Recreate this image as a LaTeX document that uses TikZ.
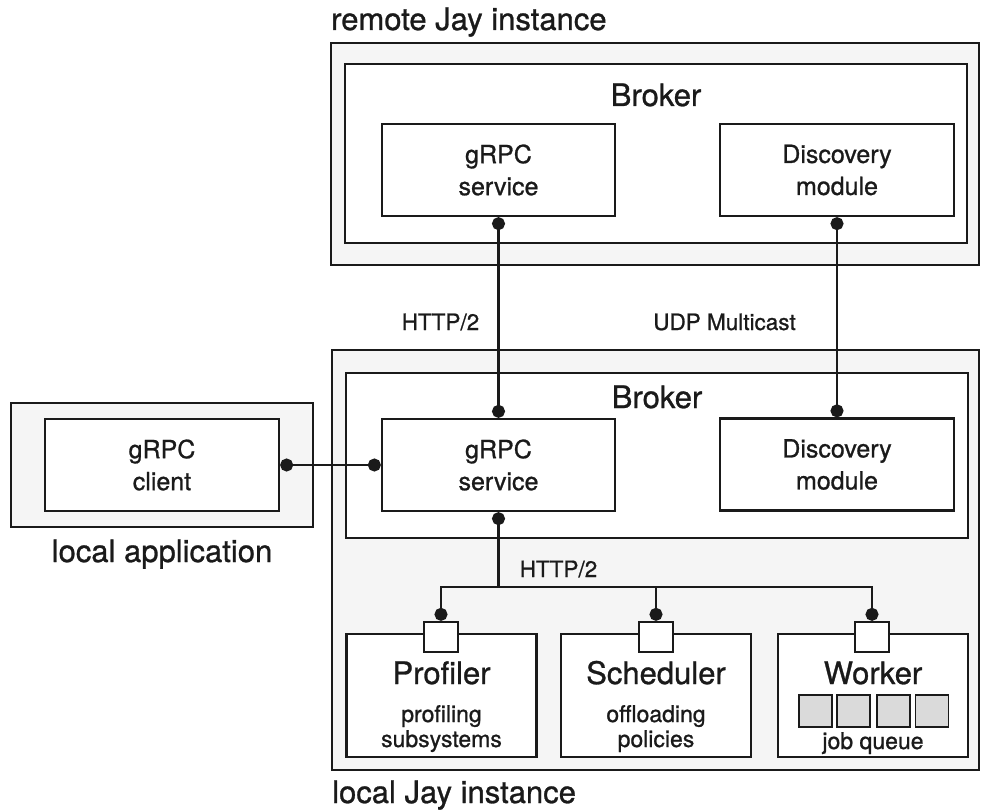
\documentclass[tikz,border=0pt]{standalone}
\usepackage{fontspec}
\setmainfont{TeX Gyre Heros}[FakeBold = 0.9]
\usetikzlibrary{arrows.meta}

\definecolor{ink}{HTML}{1A1A1A}
\definecolor{shade}{HTML}{F5F5F5}
\definecolor{slotgray}{HTML}{DADADA}
\newcommand{\bigfont}{\fontsize{31}{36}\selectfont}
\newcommand{\midfont}{\fontsize{25}{32}\selectfont}
\newcommand{\smallfont}{\fontsize{23}{25}\selectfont}
\newcommand{\tinyfont}{\fontsize{22.5}{25}\selectfont}

\begin{document}
\begin{tikzpicture}[x = 1pt, y = -1pt,
	outer/.style = {draw = ink, fill = shade, line width = 2.3pt, inner sep = 0pt},
	inner/.style = {draw = ink, fill = white, line width = 2.3pt, inner sep = 0pt},
	comp/.style = {inner, align = center, text = ink, font = \midfont,
		minimum width = 233pt, minimum height = 92pt},
	unit/.style = {inner, minimum width = 190pt, minimum height = 123pt},
	port/.style = {inner, minimum width = 34pt, minimum height = 30pt},
	slot/.style = {draw = ink, fill = slotgray, line width = 1.8pt, inner sep = 0pt,
		minimum width = 33pt, minimum height = 32pt},
	txt/.style = {inner sep = 0pt, anchor = base, text = ink},
	link/.style = {draw = ink, line width = 2.3pt},
	dots/.style = {{Circle[length = 13pt, width = 13pt]}-{Circle[length = 13pt, width = 13pt]}}]

	\useasboundingbox (0, 0) rectangle (981, 810);

		% remote instance
		\node (RJI) at (655, 154)     [outer, minimum width = 648pt, minimum height = 222pt] {};
		\node (RB)  at (656, 153.5)   [inner, minimum width = 622pt, minimum height = 179pt] {};
		\node (RGS) at (498.5, 170)   [comp] {gRPC\\service};
		\node (RDM) at (837, 170)     [comp, minimum width = 234pt] {Discovery\\module};
		\node (RJIt) at (331, 30)     [txt, anchor = base west, font = \bigfont] {remote Jay instance};
		\node (RBt)  at (656, 106)    [txt, font = \bigfont] {Broker};

		% local instance
		\node (LJI) at (655.5, 560)   [outer, minimum width = 647pt, minimum height = 420pt] {};
		\node (LB)  at (657, 455.5)   [inner, minimum width = 622pt, minimum height = 165pt] {};
		\node (LGS) at (498.5, 465)   [comp] {gRPC\\service};
		\node (LDM) at (837, 464.5)   [comp, minimum width = 234pt] {Discovery\\module};
		\node (LJIt) at (332, 803)    [txt, anchor = base west, font = \bigfont] {local Jay instance};
		\node (LBt)  at (657, 408)    [txt, font = \bigfont] {Broker};

		% local application
		\node (LA)  at (162, 465)     [outer, minimum width = 302pt, minimum height = 124pt] {};
		\node (GC)  at (162, 465)     [comp, minimum width = 234pt] {gRPC\\client};
		\node (LAt) at (162, 562)     [txt, font = \bigfont] {local application};

		% components with their ports
		\foreach \name/\x in {PR/441.5, SC/656, WK/873}
			\node (\name) at (\x, 695.5) [unit] {};
		\foreach \name/\x in {PR/441, SC/656, WK/872}
			\node (P\name) at (\x, 637) [port] {};

		\node (PRt) at (441.5, 684) [txt, font = \bigfont] {Profiler};
		\node (SCt) at (656, 684)   [txt, font = \bigfont] {Scheduler};
		\node (WKt) at (873, 684)   [txt, font = \bigfont] {Worker};
		\foreach \name/\x/\one/\two in {PR/441.5/profiling/subsystems, SC/656/offloading/policies} {
			\node (\name a) at (\x, 722) [txt, font = \smallfont] {\one};
			\node (\name b) at (\x, 747) [txt, font = \smallfont] {\two};
		}

		% job queue
		\foreach \i/\x in {1/815.5, 2/853.5, 3/893.5, 4/932}
			\node (Q\i) at (\x, 711) [slot] {};
		\node (JQ) at (873, 749) [txt, font = \smallfont] {job queue};

		% protocol labels
		\node (H1) at (440.5, 330) [txt, font = \tinyfont] {HTTP/2};
		\node (UM) at (724.5, 330) [txt, font = \tinyfont] {UDP Multicast};
		\node (H2) at (558.5, 577) [txt, font = \tinyfont] {HTTP/2};

		% connectors
		\foreach \from/\to in {RGS/LGS, RDM/LDM}
			\draw [link, dots] (\from.south) -- (\to.north);
		\draw [link, dots] (GC.east) -- (LGS.west);

		\coordinate (BUS) at (498.5, 587);
		\draw [link, {Circle[length = 13pt, width = 13pt]}-] (LGS.south) -- (BUS);
		\foreach \name in {PR, SC, WK}
			\draw [link, -{Circle[length = 13pt, width = 13pt]}] (BUS) -| (P\name.north);

\end{tikzpicture}
\end{document}
